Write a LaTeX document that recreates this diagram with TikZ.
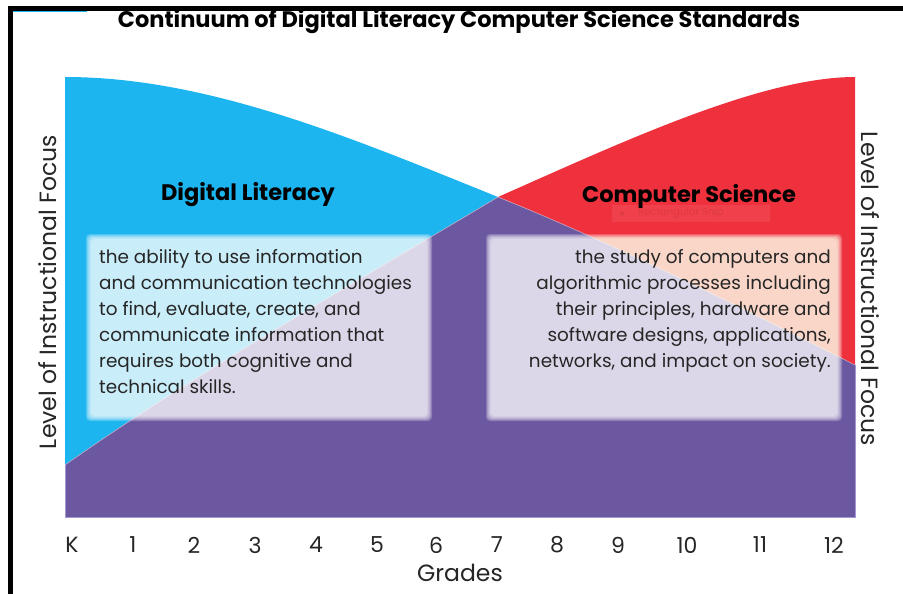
\documentclass[tikz,border=0pt]{standalone}
\usepackage{fontspec}
\setmainfont{Poppins}
\definecolor{dlblue}{HTML}{1DB5EF}
\definecolor{csred}{HTML}{EE313C}
\definecolor{mixpurple}{HTML}{6C58A1}
\definecolor{edgepurple}{HTML}{A498D4}
\definecolor{snipfill}{HTML}{F04A55}
\definecolor{sniptext}{HTML}{DC3A44}
\definecolor{peachtint}{HTML}{FFFF96}
\begin{document}
\begin{tikzpicture}[x=1pt,y=-1pt,
  bodytext/.style={inner sep=0pt,font=\fontsize{18.4}{26}\selectfont,text=black!85},
  headtext/.style={inner sep=0pt,font=\fontsize{22.5}{24}\selectfont\bfseries},
  gradetext/.style={inner sep=0pt,font=\fontsize{22}{24}\selectfont,text=black!85},
  axistext/.style={inner sep=0pt,font=\fontsize{23.5}{24}\selectfont,text=black!85}]
\useasboundingbox (0,0) rectangle (903,594);
\fill[white] (0,0) rectangle (903,594);
% regions
\fill[dlblue] (65,517) -- (65,77) .. controls (209,77) and (354,139) .. (498,197)
  .. controls (617,245) and (736,305) .. (855,365) -- (855,517) -- cycle;
\fill[csred] (65,517) -- (65,465) .. controls (200,370) and (380,268) .. (498,197)
  .. controls (618,144) and (760,77) .. (855,77) -- (855,517) -- cycle;
\fill[mixpurple] (65,517) -- (65,465) .. controls (200,370) and (380,268) .. (498,197)
  .. controls (617,245) and (736,305) .. (855,365) -- (855,517) -- cycle;
\draw[edgepurple,line width=0.8pt] (65,465) -- (65,517) -- (855,517) -- (855,365);
\draw[white,opacity=0.5,line width=0.6pt] (65,465) .. controls (200,370) and (380,268) .. (498,197)
  .. controls (617,245) and (736,305) .. (855,365);
% soft boxes
\foreach \i in {0,...,5} {
  \fill[white,opacity=0.22,rounded corners=4pt] ({86+\i},{234+\i}) rectangle ({432-\i},{421-\i});
  \fill[white,opacity=0.22,rounded corners=4pt] ({486+\i},{234+\i}) rectangle ({842-\i},{421-\i});
}
\begin{scope}
  \clip (498,197) .. controls (617,245) and (736,305) .. (855,365) -- (855,0) -- (498,0) -- cycle;
  \fill[peachtint,opacity=0.15,rounded corners=4pt] (489,237) rectangle (839,418);
\end{scope}
% faint snip artifact
\fill[snipfill,opacity=0.6] (612,205) rectangle (770,222);
\fill[sniptext] (622,213.5) circle (2pt);
\node[inner sep=0pt,anchor=west,font=\fontsize{10}{10}\selectfont,text=sniptext] (snip) at (638,213.5) {Rectangular Snip};
% headings
\node[headtext] (dl) at (248,195) {Digital Literacy};
\node[headtext] (cs) at (689,196) {Computer Science};
% body texts
\node[bodytext,align=left,anchor=north west] (dltext) at (99,249) {the ability to use information\\and communication technologies\\to find, evaluate, create, and\\communicate information that\\requires both cognitive and\\technical skills.};
\node[bodytext,align=right,anchor=north east] (cstext) at (831,249) {the study of computers and\\algorithmic processes including\\their principles, hardware and\\software designs, applications,\\networks, and impact on society.};
% title
\node[inner sep=0pt,font=\fontsize{22.5}{24}\selectfont\bfseries] (title) at (459,22) {Continuum of Digital Literacy Computer Science Standards};
% axis labels
\node[axistext,rotate=90] (yl) at (48,292) {Level of Instructional Focus};
\node[axistext,rotate=-90] (yr) at (870,289) {Level of Instructional Focus};
\foreach \g/\x in {K/72,1/133,2/194,3/255,4/316,5/377,6/436,7/497,8/557,9/618,10/687,11/760,12/834} {
  \node[gradetext] (g\g) at (\x,545) {\g};
}
\node[axistext] (grades) at (460,573) {Grades};
% frame
\draw[black,line width=4.5pt] (8,8.5) -- (903,8.5);
\draw[black,line width=5pt] (10.5,6.5) -- (10.5,594);
\draw[dlblue,line width=0.8pt] (13,11) -- (87,11);
\end{tikzpicture}
\end{document}
